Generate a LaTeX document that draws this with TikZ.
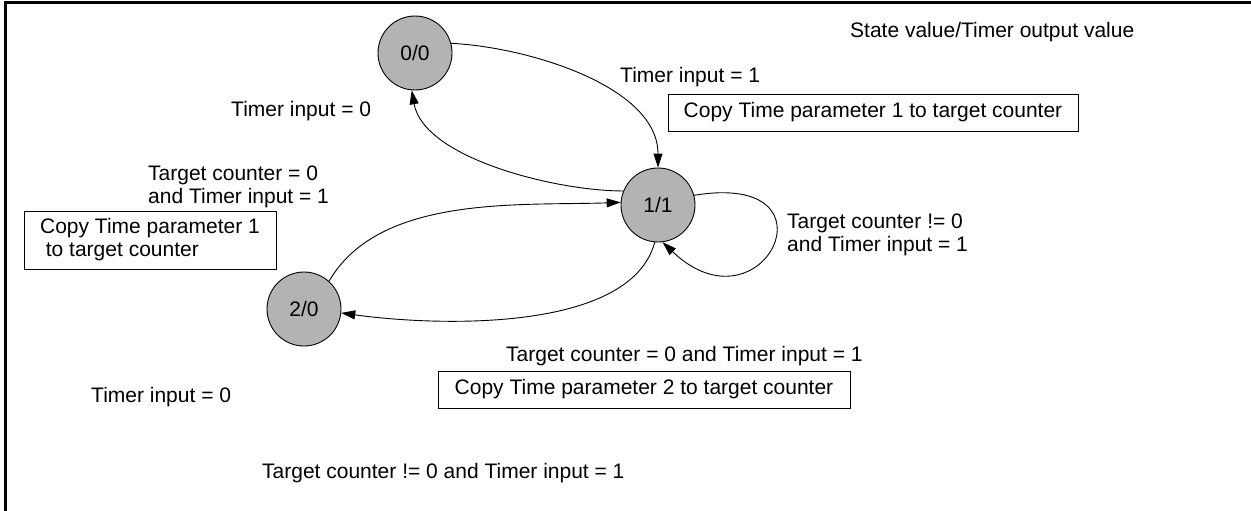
\documentclass[tikz,border=0pt]{standalone}
\usepackage{fontspec}
\setmainfont{Liberation Sans}
\usepackage{tikz}
\usetikzlibrary{arrows.meta, positioning}
\definecolor{stategray}{RGB}{179,179,179}

\begin{document}
\begin{tikzpicture}[x=1pt, y=1pt,
  font=\fontsize{21}{23}\selectfont,
  state/.style={circle, draw=black, line width=0.9pt, fill=stategray,
                minimum size=74pt, inner sep=0pt},
  cond/.style={inner sep=0pt, align=left},
  action/.style={rectangle, draw=black, line width=0.9pt, inner sep=0pt,
                 align=left, minimum height=37pt},
  arr/.style={-{Triangle[length=14pt, width=9pt]}, line width=0.9pt}
]
  \useasboundingbox (0,0) rectangle (1251,-511);
  \draw[line width=3pt] (5.5,-511) -- (5.5,-2.5) -- (1251,-2.5);

  \node[state] (s00) at (415,-53)  {0/0};
  \node[state] (s11) at (658,-205) {1/1};
  \node[state] (s20) at (304,-309) {2/0};

  \node[cond, anchor=base west] (legend) at (850,-37.3) {State value/Timer output value};
  \node[cond, anchor=base west] (c01) at (620,-82) {Timer input = 1};
  \node[action, minimum width=410pt] (a01) at (873,-112.5) {Copy Time parameter 1 to target counter};
  \node[cond, anchor=base west] (c10) at (231,-117) {Timer input = 0};
  \node[cond, anchor=west] (c21) at (148,-186.6) {Target counter = 0\\and Timer input = 1};
  \node[action, minimum width=252pt, minimum height=58pt] (a21) at (150,-240)
       {Copy Time parameter 1\\\hspace*{5.8pt}to target counter};
  \node[cond, anchor=west] (c11) at (787,-234.6) {Target counter != 0\\and Timer input = 1};
  \node[cond, anchor=base west] (c12) at (506,-361.7) {Target counter = 0 and Timer input = 1};
  \node[action, minimum width=412pt] (a12) at (644,-389.5) {Copy Time parameter 2 to target counter};
  \node[cond, anchor=base west] (c20) at (91,-402.7) {Timer input = 0};
  \node[cond, anchor=base west] (c22) at (262,-478.5) {Target counter != 0 and Timer input = 1};

  \draw[arr] (s00.15) to[out=-3, in=90, looseness=0.85] (s11.north);
  \draw[arr] (s11.158) to[out=180, in=-80, looseness=0.75] (s00.-95);
  \draw[arr] (s20.48) to[out=60, in=182, looseness=0.85] (s11.176);
  \draw[arr] (s11.-95) to[out=-105, in=-8, looseness=0.75] (s20.-6);
  \draw[arr] (s11.15) .. controls +(150,25) and +(100,-95) .. (s11.-83);
\end{tikzpicture}
\end{document}
